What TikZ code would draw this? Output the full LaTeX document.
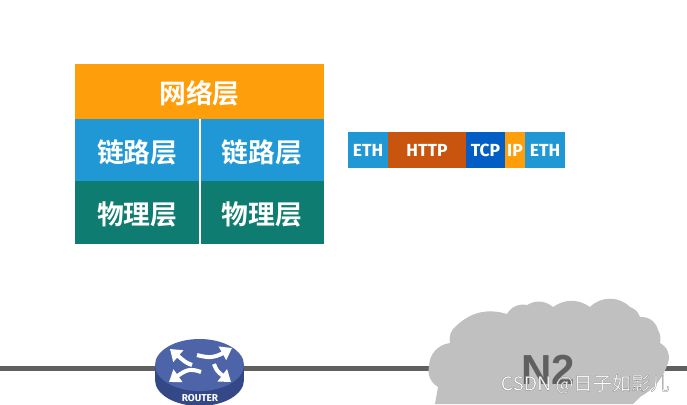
\documentclass[tikz,border=0pt]{standalone}
\usepackage{fontspec}
\setmainfont{Liberation Sans}
\newfontfamily\cjkbold{Noto Sans CJK SC Bold}
\newfontfamily\cjklight{Noto Sans CJK SC}
\newfontfamily\fieldfont{Fira Sans}
\usetikzlibrary{shapes.geometric, arrows.meta, positioning, backgrounds}
\definecolor{layerorange}{RGB}{255,158,11}
\definecolor{layerblue}{RGB}{33,152,214}
\definecolor{layerteal}{RGB}{14,124,112}
\definecolor{httprust}{RGB}{200,84,14}
\definecolor{tcpblue}{RGB}{2,94,196}
\definecolor{cloudgray}{RGB}{192,192,192}
\definecolor{wiregray}{RGB}{96,96,96}
\definecolor{routertop}{RGB}{78,100,168}
\definecolor{routerside}{RGB}{52,72,136}
\newcommand{\outlined}[1]{\special{pdf:code 2 Tr 0.3 w 0.55 G}#1\special{pdf:code 0 Tr}}
\begin{document}
\begin{tikzpicture}[
    x=1pt, y=-1pt,
    node distance=0pt,
    layerbox/.style={rectangle, inner sep=0pt, outer sep=0pt, text=white, minimum height=62pt, minimum width=124.5pt, text height=26pt, text depth=2pt, font=\cjkbold\fontsize{26.8}{30}\selectfont},
    fieldbox/.style={rectangle, inner sep=0pt, outer sep=0pt, text=white, minimum height=36pt, font=\fieldfont\bfseries\fontsize{17.5}{20}\selectfont},
    wire/.style={draw=wiregray, line width=5pt},
    routerarrow/.style={draw=white, line width=4pt, -{Triangle[length=11pt,width=15pt]}},
]
    \useasboundingbox (0,0) rectangle (687,404);
    \clip (0,0) rectangle (687,404);

    % protocol stack
    \node[layerbox, fill=layerorange, minimum width=249pt, minimum height=55pt, anchor=north west] (net) at (75,64) {网络层};
    \node[layerbox, fill=layerblue, below right=0pt and 0pt of net.south west] (linkA) {链路层};
    \node[layerbox, fill=layerblue, right=of linkA] (linkB) {链路层};
    \node[layerbox, fill=layerteal, below=of linkA, minimum height=63pt] (phyA) {物理层};
    \node[layerbox, fill=layerteal, below=of linkB, minimum height=63pt] (phyB) {物理层};
    \draw[white, line width=2pt] (linkA.north east) -- (phyA.south east);

    % frame
    \node[fieldbox, fill=layerblue, minimum width=40pt, anchor=north west] (ethA) at (348,132) {ETH};
    \node[fieldbox, fill=httprust, minimum width=78pt, right=of ethA] (http) {HTTP};
    \node[fieldbox, fill=tcpblue, minimum width=39pt, right=of http] (tcp) {TCP};
    \node[fieldbox, fill=layerorange, minimum width=20pt, right=of tcp] (ip) {IP};
    \node[fieldbox, fill=layerblue, minimum width=40pt, right=of ip] (ethB) {ETH};

    % wire, router and cloud
    \coordinate (wireW) at (0,368);
    \coordinate (wireE) at (687,368);
    \node[ellipse, inner sep=0pt, minimum width=89pt, minimum height=52pt, fill=routerside] (routerbase) at (199.5,380) {};
    \fill[routerside] (155,365) rectangle (244,380);
    \node[ellipse, inner sep=0pt, minimum width=89pt, minimum height=52pt, fill=routertop] (router) at (199.5,365) {};
    \node[text=white, font=\fieldfont\bfseries\fontsize{10}{10}\selectfont] (routerlabel) at (200,398) {ROUTER};
    \draw[routerarrow] (192,365) .. controls (186,363) and (184,361) .. (170,349);
    \draw[routerarrow] (197,355) .. controls (208,358) and (214,358) .. (232,348);
    \draw[routerarrow] (214,364) .. controls (216,370) and (218,372) .. (231,382);
    \draw[routerarrow] (201,372) .. controls (190,368) and (186,370) .. (169,382);

    \fill[cloudgray] (429,366) to[bend left=40] (450,343) to[bend left=30] (456,326)
        to[bend left=30] (507,314) to[bend left=35] (527,305) to[bend left=35] (553,307)
        to[bend left=35] (590,307) to[bend left=45] (630,307) to[bend left=25] (640,317)
        to[bend left=40] (658,330) to[bend left=20] (660,343) to[bend left=40] (668,363)
        to[bend left=20] (640,397) -- (633,404) -- (435,404) -- (438,387) to[bend left=35] cycle;
    \node[text=wiregray, font=\bfseries\fontsize{42}{44}\selectfont] (cloudlabel) at (548,370) {N2};

    \begin{scope}[on background layer]
        \draw[wire] (wireW) -- (wireW -| router.west);
        \draw[wire] (wireE -| router.east) -- (wireE);
    \end{scope}

    % watermark
    \node[text=white, font=\cjklight\fontsize{19.2}{22}\selectfont, anchor=east] (mark) at (673,384) {\outlined{CSDN @日子如影儿}};
\end{tikzpicture}
\end{document}
